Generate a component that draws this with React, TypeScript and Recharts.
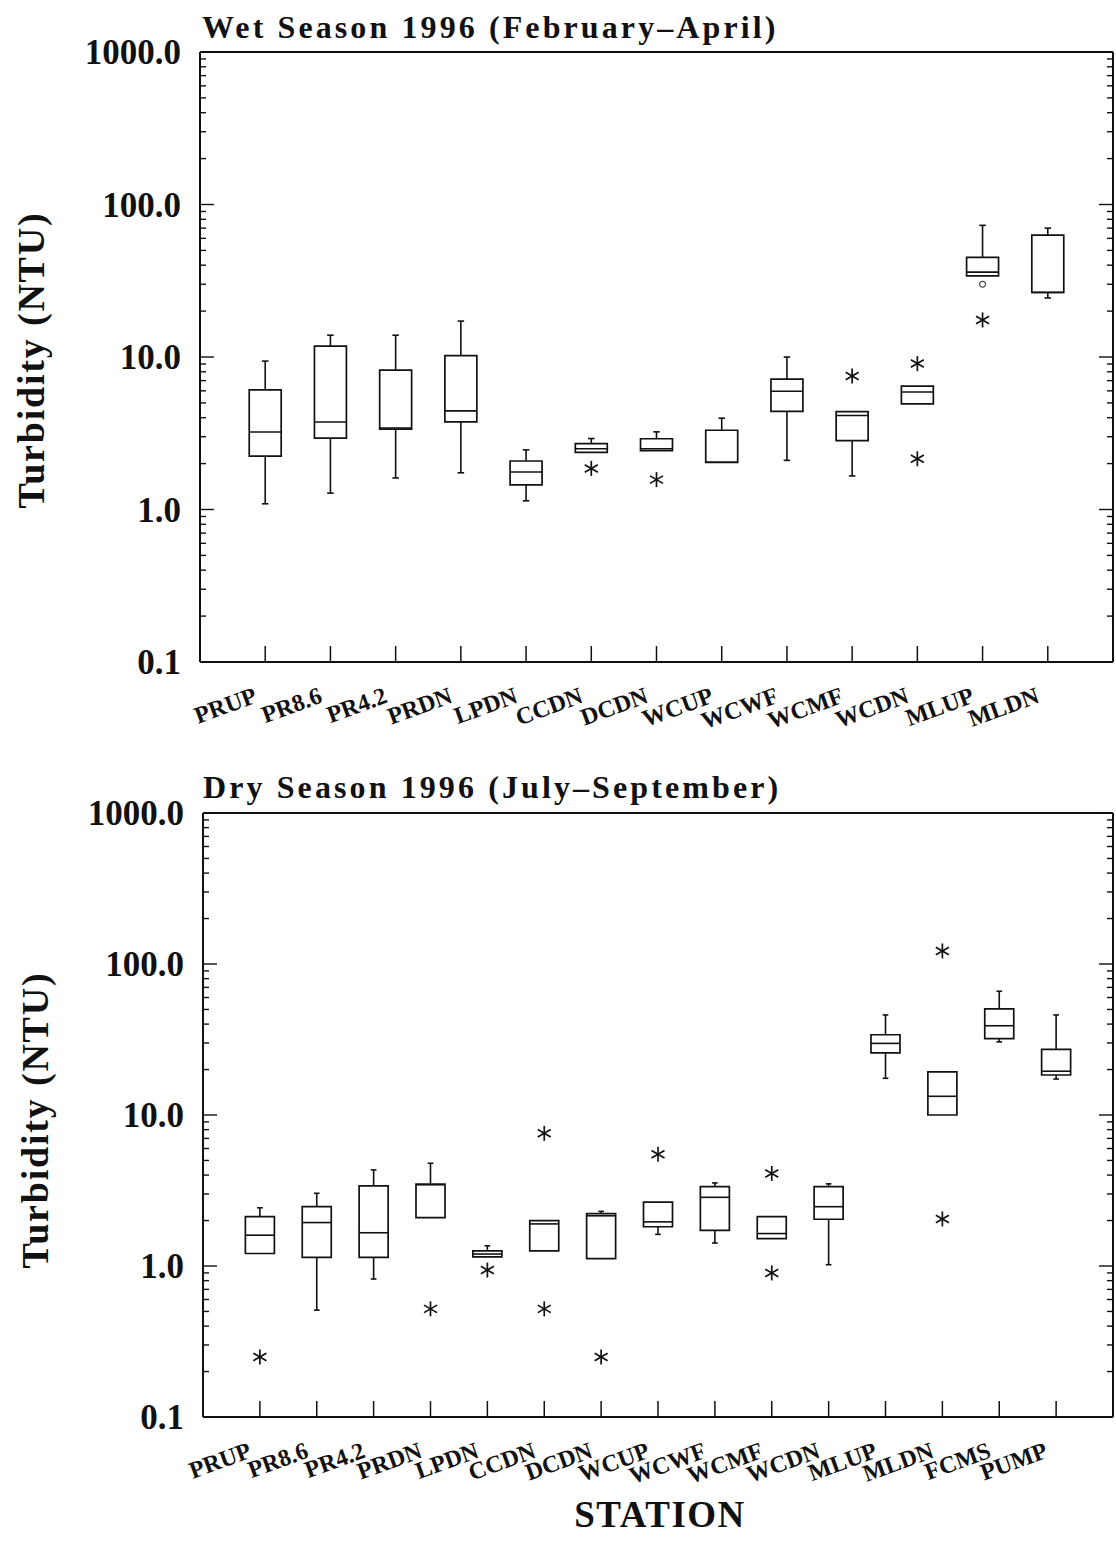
import React from 'react';
import { ComposedChart, XAxis, YAxis, Scatter, ReferenceArea, ReferenceLine } from 'recharts';

// ---------- Wet season 1996 (February–April) ----------
const wetStations = ['PRUP', 'PR8.6', 'PR4.2', 'PRDN', 'LPDN', 'CCDN', 'DCDN', 'WCUP', 'WCWF', 'WCMF', 'WCDN', 'MLUP', 'MLDN'];
const wetLow: (number | null)[] = [1.09, 1.28, 1.61, 1.74, 1.14, null, null, null, 2.1, 1.66, null, null, 24.4];
const wetQ1 = [2.24, 2.94, 3.37, 3.75, 1.45, 2.37, 2.43, 2.04, 4.4, 2.83, 4.93, 34, 26.5];
const wetMedian = [3.22, 3.75, 3.42, 4.43, 1.76, 2.5, 2.5, 2.04, 5.96, 4.13, 5.9, 36, 26.5];
const wetQ3 = [6.08, 11.8, 8.2, 10.2, 2.08, 2.7, 2.91, 3.31, 7.15, 4.38, 6.45, 45, 63];
const wetHigh: (number | null)[] = [9.4, 13.9, 13.9, 17.2, 2.46, 2.92, 3.23, 3.97, 10.0, null, null, 73, 70];
const wetOutStation = ['CCDN', 'DCDN', 'WCMF', 'WCDN', 'WCDN', 'MLUP'];
const wetOutValue = [1.86, 1.57, 7.5, 9.05, 2.15, 17.5];
const wetFarStation = ['MLUP'];
const wetFarValue = [30];

// ---------- Dry season 1996 (July–September) ----------
const dryStations = ['PRUP', 'PR8.6', 'PR4.2', 'PRDN', 'LPDN', 'CCDN', 'DCDN', 'WCUP', 'WCWF', 'WCMF', 'WCDN', 'MLUP', 'MLDN', 'FCMS', 'PUMP'];
const dryLow: (number | null)[] = [null, 0.51, 0.82, null, null, null, null, 1.62, 1.42, null, 1.02, 17.5, null, 30.5, 17.3];
const dryQ1 = [1.21, 1.14, 1.14, 2.09, 1.15, 1.26, 1.12, 1.82, 1.72, 1.52, 2.04, 25.8, 10, 32, 18.4];
const dryMedian = [1.6, 1.94, 1.66, 3.45, 1.2, 1.9, 2.15, 1.96, 2.85, 1.64, 2.47, 29.8, 13.3, 39, 19.5];
const dryQ3 = [2.12, 2.47, 3.39, 3.49, 1.26, 2.0, 2.22, 2.65, 3.35, 2.12, 3.35, 34, 19.3, 50.5, 27.2];
const dryHigh: (number | null)[] = [2.43, 3.03, 4.33, 4.79, 1.36, null, 2.3, null, 3.55, null, 3.5, 46, null, 66, 46];
const dryOutStation = ['PRUP', 'PRDN', 'LPDN', 'CCDN', 'CCDN', 'DCDN', 'WCUP', 'WCMF', 'WCMF', 'MLDN', 'MLDN'];
const dryOutValue = [0.25, 0.52, 0.94, 7.56, 0.52, 0.25, 5.5, 4.1, 0.9, 122, 2.05];
const dryFarStation: string[] = [];
const dryFarValue: number[] = [];

// ---------- axis tick values ----------
const yMajorTicks = [0.1, 1, 10, 100, 1000];
const yMajorLabels = ['0.1', '1.0', '10.0', '100.0', '1000.0'];
const yMinorTicks = [
  0.2, 0.3, 0.4, 0.5, 0.6, 0.7, 0.8, 0.9,
  2, 3, 4, 5, 6, 7, 8, 9,
  20, 30, 40, 50, 60, 70, 80, 90,
  200, 300, 400, 500, 600, 700, 800, 900,
];
const yAllTicks = [...yMajorTicks, ...yMinorTicks].sort((a, b) => a - b);

const SERIF = '"Liberation Serif", "Times New Roman", "DejaVu Serif", serif';
const INK = '#111';

const LeftTick = (props: any) => {
  const { x, y, payload } = props;
  const idx = yMajorTicks.indexOf(payload.value);
  const major = idx >= 0;
  return (
    <g>
      <line x1={x} x2={x + (major ? 14 : 6)} y1={y} y2={y} stroke={INK} strokeWidth={1.4} />
      {major && (
        <text x={x - 19} y={y} dy={12} textAnchor="end" fontFamily={SERIF} fontWeight="bold" fontSize={35} fill={INK}>
          {yMajorLabels[idx]}
        </text>
      )}
    </g>
  );
};

const RightTick = (props: any) => {
  const { x, y, payload } = props;
  const major = yMajorTicks.indexOf(payload.value) >= 0;
  return <line x1={x} x2={x - (major ? 14 : 6)} y1={y} y2={y} stroke={INK} strokeWidth={1.4} />;
};

const TopTick = (props: any) => {
  const { x, y } = props;
  return <line x1={x} x2={x} y1={y} y2={y + 16} stroke={INK} strokeWidth={1.5} />;
};

const makeBottomTick = (names: string[]) => (props: any) => {
  const { x, y, payload } = props;
  const name = names[Math.round(payload.value) - 1] ?? '';
  const tx = x - 7;
  const ty = y + 40;
  return (
    <g>
      <line x1={x} x2={x} y1={y} y2={y - 16} stroke={INK} strokeWidth={1.5} />
      <text x={tx} y={ty} transform={`rotate(-20, ${tx}, ${ty})`} textAnchor="end" fontFamily={SERIF} fontWeight="bold" fontSize={24} fill={INK}>
        {name}
      </text>
    </g>
  );
};

const Star = (props: any) => {
  const { cx, cy } = props;
  const r = 7.5;
  const dx = r * Math.cos(Math.PI / 6);
  const dy = r * Math.sin(Math.PI / 6);
  return (
    <g stroke={INK} strokeWidth={1.7}>
      <line x1={cx} x2={cx} y1={cy - r} y2={cy + r} />
      <line x1={cx - dx} x2={cx + dx} y1={cy - dy} y2={cy + dy} />
      <line x1={cx - dx} x2={cx + dx} y1={cy + dy} y2={cy - dy} />
    </g>
  );
};

const Ring = (props: any) => {
  const { cx, cy } = props;
  return <circle cx={cx} cy={cy} r={3} fill="none" stroke={INK} strokeWidth={1} />;
};

type PanelProps = {
  stations: string[];
  low: (number | null)[];
  q1: number[];
  med: number[];
  q3: number[];
  high: (number | null)[];
  outStation: string[];
  outValue: number[];
  farStation: string[];
  farValue: number[];
  xMax: number;
  height: number;
  margin: { top: number; right: number; bottom: number; left: number };
  halfWidth: number;
};

const BoxPanel = (p: PanelProps) => {
  const xs = p.stations.map((_, i) => i + 1);
  const outliers = p.outStation.map((s, k) => ({ x: p.stations.indexOf(s) + 1, y: p.outValue[k] }));
  const far = p.farStation.map((s, k) => ({ x: p.stations.indexOf(s) + 1, y: p.farValue[k] }));
  const hw = p.halfWidth;
  const cap = 0.05;
  const ax = { xAxisId: 'xb', yAxisId: 'yl' } as const;
  const lineStyle = { stroke: INK, strokeWidth: 1.6 };
  const marks: React.ReactNode[] = [];
  xs.forEach((x, i) => {
    const hi = p.high[i];
    const lo = p.low[i];
    if (hi != null) {
      marks.push(<ReferenceLine key={`wh${i}`} {...ax} segment={[{ x, y: p.q3[i] }, { x, y: hi }]} {...lineStyle} ifOverflow="visible" />);
      marks.push(<ReferenceLine key={`ch${i}`} {...ax} segment={[{ x: x - cap, y: hi }, { x: x + cap, y: hi }]} {...lineStyle} ifOverflow="visible" />);
    }
    if (lo != null) {
      marks.push(<ReferenceLine key={`wl${i}`} {...ax} segment={[{ x, y: p.q1[i] }, { x, y: lo }]} {...lineStyle} ifOverflow="visible" />);
      marks.push(<ReferenceLine key={`cl${i}`} {...ax} segment={[{ x: x - cap, y: lo }, { x: x + cap, y: lo }]} {...lineStyle} ifOverflow="visible" />);
    }
    marks.push(
      <ReferenceArea key={`b${i}`} {...ax} x1={x - hw} x2={x + hw} y1={p.q1[i]} y2={p.q3[i]} fill="#fff" fillOpacity={0} stroke={INK} strokeWidth={1.7} ifOverflow="visible" />,
    );
    marks.push(<ReferenceLine key={`m${i}`} {...ax} segment={[{ x: x - hw, y: p.med[i] }, { x: x + hw, y: p.med[i] }]} {...lineStyle} ifOverflow="visible" />);
  });

  return (
    <ComposedChart width={1116} height={p.height} margin={p.margin}>
      <XAxis
        xAxisId="xt"
        orientation="top"
        type="number"
        domain={[0, p.xMax]}
        ticks={xs}
        interval={0}
        height={1}
        tickSize={0}
        tickMargin={0}
        tickLine={false}
        tick={TopTick}
        axisLine={{ stroke: INK, strokeWidth: 2 }}
        allowDataOverflow
      />
      <XAxis
        xAxisId="xb"
        dataKey="x"
        orientation="bottom"
        type="number"
        domain={[0, p.xMax]}
        ticks={xs}
        interval={0}
        height={60}
        tickSize={0}
        tickMargin={0}
        tickLine={false}
        tick={makeBottomTick(p.stations)}
        axisLine={{ stroke: INK, strokeWidth: 2 }}
        allowDataOverflow
      />
      <YAxis
        yAxisId="yl"
        dataKey="y"
        orientation="left"
        type="number"
        scale="log"
        domain={[0.1, 1000]}
        ticks={yAllTicks}
        interval={0}
        width={130}
        tickSize={0}
        tickMargin={0}
        tickLine={false}
        tick={LeftTick}
        axisLine={{ stroke: INK, strokeWidth: 2 }}
        allowDataOverflow
      />
      <YAxis
        yAxisId="yr"
        orientation="right"
        type="number"
        scale="log"
        domain={[0.1, 1000]}
        ticks={yAllTicks}
        interval={0}
        width={1}
        tickSize={0}
        tickMargin={0}
        tickLine={false}
        tick={RightTick}
        axisLine={{ stroke: INK, strokeWidth: 2 }}
        allowDataOverflow
      />
      {marks}
      <Scatter {...ax} data={outliers} shape={Star} isAnimationActive={false} />
      {far.length > 0 && <Scatter {...ax} data={far} shape={Ring} isAnimationActive={false} />}
    </ComposedChart>
  );
};

export default function App() {
  return (
    <div style={{ position: 'absolute', left: 0, top: 0, width: 1116, height: 1547, background: '#fff', overflow: 'hidden' }}>
      <div style={{ position: 'absolute', left: 0, top: 0 }}>
        <BoxPanel
          stations={wetStations}
          low={wetLow}
          q1={wetQ1}
          med={wetMedian}
          q3={wetQ3}
          high={wetHigh}
          outStation={wetOutStation}
          outValue={wetOutValue}
          farStation={wetFarStation}
          farValue={wetFarValue}
          xMax={14}
          height={760}
          margin={{ top: 51, right: 2, bottom: 38, left: 70 }}
          halfWidth={0.245}
        />
      </div>
      <div style={{ position: 'absolute', left: 0, top: 760 }}>
        <BoxPanel
          stations={dryStations}
          low={dryLow}
          q1={dryQ1}
          med={dryMedian}
          q3={dryQ3}
          high={dryHigh}
          outStation={dryOutStation}
          outValue={dryOutValue}
          farStation={dryFarStation}
          farValue={dryFarValue}
          xMax={16}
          height={787}
          margin={{ top: 52, right: 2, bottom: 70, left: 73 }}
          halfWidth={0.255}
        />
      </div>
      <svg width={1116} height={1547} style={{ position: 'absolute', left: 0, top: 0, pointerEvents: 'none' }}>
        <g fontFamily={SERIF} fontWeight="bold" fill={INK}>
          <text x={202} y={38} fontSize={32} letterSpacing={3.1}>Wet Season 1996 (February–April)</text>
          <text x={203} y={798} fontSize={32} letterSpacing={3.1}>Dry Season 1996 (July–September)</text>
          <text x={44} y={360} fontSize={38} letterSpacing={1.8} textAnchor="middle" transform="rotate(-90, 44, 360)">Turbidity (NTU)</text>
          <text x={48} y={1120} fontSize={38} letterSpacing={1.8} textAnchor="middle" transform="rotate(-90, 48, 1120)">Turbidity (NTU)</text>
          <text x={660} y={1527} fontSize={37} letterSpacing={1.5} textAnchor="middle">STATION</text>
        </g>
      </svg>
    </div>
  );
}
